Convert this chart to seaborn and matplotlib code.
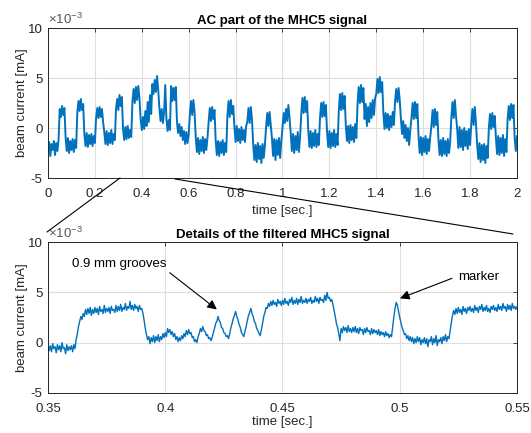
import numpy as np
import seaborn as sns
import matplotlib.pyplot as plt
from matplotlib.lines import Line2D

# AC part of the MHC5 signal, values in 1e-3 mA, one sample every 5 ms (0 .. 2 s)
ac_signal = [
    -2.4, -1.4, -2.8, -1.6, -2.2, -1.3, -2.7, -1.5, -2.3, -1.2, 1.9, 1.1, 2.2, 1.3, 2.0, -0.9, -2.3, -1.0, -2.5, -1.3,
    -2.2, -1.1, -2.4, -1.2, -2.0, 1.6, 2.7, 1.7, 2.9, 1.8, 2.4, -0.6, -1.8, -0.5, -1.9, -0.7, -1.6, -0.6, -1.8, -0.8,
    -1.5, 1.0, 2.0, 1.0, 2.1, 1.1, 1.9, 0.6, -0.4, -1.6, -0.3, -1.7, -0.5, -1.5, -0.2, -1.6, -0.6, -1.2, 1.9, 2.9,
    1.8, 3.3, 2.2, 3.1, -0.1, -1.2, 0.1, -1.1, 0.2, -1.0, -0.2, -0.9, 2.6, 3.9, 2.5, 4.1, 2.8, 4.2, 3.0, 0.9,
    -0.2, 1.1, -0.1, 1.7, 0.2, 2.6, 0.6, 3.3, 1.4, 4.4, 3.4, 4.8, 3.6, 5.2, 3.8, 2.0, 0.7, 1.9, 0.5, 1.6,
    4.3, 0.9, -0.3, 0.8, -0.2, 4.2, 2.7, 4.0, 2.8, 4.1, 0.6, -0.5, 0.4, -0.8, 0.1, -1.2, -0.3, -1.6, -0.4, -1.5,
    -0.6, 1.4, 2.7, 1.3, 2.8, 1.6, -0.9, -2.4, -1.0, -2.6, -1.2, -2.3, -0.9, -2.5, -1.1, -2.2, -1.0, 0.6, 2.0, 0.7,
    2.1, 0.9, 1.8, -1.2, -2.7, -1.3, -2.8, -1.4, -2.5, -1.2, -2.7, -1.5, -2.4, 1.2, 2.7, 1.1, 2.8, 1.4, 2.2, 0.1,
    -1.4, 0.2, -1.3, -0.1, -1.5, 0.1, -1.2, -0.2, -1.4, 0.2, 0.6, 2.0, 0.5, 2.1, 0.8, -1.6, -3.2, -1.7, -3.4, -1.5,
    -3.1, -1.8, -3.5, -1.6, -3.0, -1.7, 0.1, 1.5, 0.2, 1.6, 0.3, -1.0, -2.8, -1.1, -3.2, -1.2, -2.7, -1.0, -3.0, -1.3,
    0.0, 1.5, 0.5, 1.9, 0.7, 2.3, 1.0, -0.5, -2.3, -0.6, -2.5, -0.8, -2.2, -0.4, -2.4, -0.9, 1.4, 3.0, 1.5, 3.1,
    1.6, 2.7, -0.3, -1.9, -0.3, -2.0, -0.5, -1.8, -0.2, -1.9, -0.6, -1.7, 1.0, 2.5, 1.1, 2.6, 1.2, 2.3, -0.4, -1.9,
    -0.3, -2.0, -0.5, -1.8, -0.2, -1.9, -0.6, -1.7, 1.7, 3.4, 1.8, 3.5, 1.9, 3.2, 0.3, -1.3, 0.2, -1.5, 0.3, -1.2,
    0.1, -1.4, 0.4, -1.0, 2.4, 4.1, 2.5, 4.3, 2.6, 4.0, 0.9, 2.4, 0.2, 2.1, 0.6, 2.5, 1.0, 2.8, 1.3, 3.0,
    3.4, 4.9, 3.5, 5.1, 3.6, 4.6, 1.6, -0.1, 1.5, 0.0, 1.4, -0.2, 1.2, 0.1, 1.6, 0.3, 2.7, 3.9, 2.6, 4.0,
    2.8, 0.9, -0.6, 0.7, -1.0, 0.3, -1.3, 0.0, -1.7, -0.2, 1.0, 2.5, 0.9, 2.6, 1.0, 2.4, -0.8, -2.5, -0.9, -2.7,
    -1.0, -2.4, -0.8, -2.6, -1.1, -2.3, -0.9, 0.2, 1.8, 0.1, 1.9, 0.3, 1.6, -1.1, -2.7, -1.2, -2.8, -1.0, -2.6, -1.3,
    -2.8, -1.1, -2.5, -1.4, 1.0, 2.6, 1.0, 2.8, 1.2, -0.1, -2.0, 0.1, -1.9, -0.2, -2.2, 0.0, -1.8, -0.3, -2.1, -0.1,
    -1.7, 0.4, 1.9, 0.3, 2.1, 0.5, -1.6, -3.1, -1.5, -3.4, -1.7, -3.2, -1.6, -3.5, -1.8, -3.0, 0.0, 1.4, -0.1, 1.5,
    0.1, 1.2, -0.9, -2.6, -0.8, -2.7, -1.0, -2.5, -0.7, -2.8, -1.1, -2.4, 0.9, 2.2, 0.8, 2.4, 1.0, 2.3, -1.0, -2.3,
    -0.8,
]

# filtered MHC5 signal, 1e-3 mA, one sample every 0.5 ms (0.35 .. 0.55 s)
filtered_signal = [
    -0.2, -0.8, -0.3, -0.9, -0.1, -0.6, -0.4, -1.0, -0.2, -0.7, -0.3, -0.9, 0.0, -0.6, -0.5, -1.1, -0.2, -0.8, -0.4, -0.7,
    -0.3, -0.9, -0.2, -0.6, 0.3, 0.9, 1.6, 2.1, 2.6, 2.3, 2.9, 2.6, 3.3, 2.8, 3.4, 2.9, 3.5, 2.7, 3.3, 2.9,
    3.5, 3.0, 3.4, 2.8, 3.6, 3.1, 3.3, 2.9, 3.7, 3.0, 3.4, 3.1, 3.5, 2.9, 3.6, 3.2, 3.3, 3.0, 3.7, 3.1,
    3.6, 3.2, 3.8, 3.1, 3.5, 3.3, 3.9, 3.2, 3.6, 3.4, 4.1, 3.3, 3.7, 3.2, 3.8, 3.4, 3.6, 3.1, 3.7, 3.3,
    3.4, 2.9, 2.2, 1.4, 0.8, 0.3, 0.6, -0.1, 0.5, 0.1, 0.7, 0.0, 0.6, 0.2, 0.8, 0.1, 0.6, 0.3, 0.9, 0.5,
    1.0, 0.6, 1.4, 1.0, 1.3, 0.8, 1.1, 0.6, 0.9, 0.3, 0.6, 0.1, 0.5, 0.2, 0.7, 0.4, 0.9, 0.6, 1.2, 0.8,
    1.3, 0.9, 1.0, 0.5, 0.6, 0.1, 0.3, 0.0, 0.6, 0.9, 1.4, 1.1, 1.6, 1.2, 1.1, 0.7, 0.8, 0.4, 0.5, 0.2,
    0.5, 1.0, 1.4, 1.9, 2.1, 2.6, 2.2, 2.0, 1.5, 1.4, 1.0, 0.9, 0.6, 0.7, 0.4, 0.9, 1.5, 1.9, 2.4, 2.7,
    3.1, 2.6, 2.3, 1.8, 1.5, 1.0, 0.8, 0.6, 1.1, 1.6, 2.2, 2.7, 3.0, 3.4, 2.9, 2.6, 2.1, 1.9, 1.4, 1.2,
    0.9, 0.7, 1.3, 1.9, 2.6, 3.0, 3.5, 3.4, 3.9, 3.6, 4.1, 3.7, 4.2, 3.8, 4.0, 3.6, 4.3, 3.9, 4.1, 3.7,
    4.2, 3.8, 4.4, 3.9, 4.1, 3.7, 4.3, 4.0, 4.5, 3.8, 4.2, 3.9, 4.4, 3.8, 4.3, 4.0, 4.6, 3.9, 4.2, 4.0,
    4.4, 3.9, 4.3, 4.1, 4.5, 3.9, 4.2, 4.0, 4.6, 4.1, 4.4, 3.9, 4.5, 4.2, 4.3, 4.0, 4.7, 4.2, 5.0, 4.4,
    4.5, 4.1, 4.3, 3.8, 3.2, 2.6, 1.9, 1.5, 0.9, 0.2, 1.4, 1.0, 1.6, 1.2, 1.5, 1.0, 1.7, 1.1, 1.4, 1.0,
    1.5, 1.1, 1.6, 1.0, 1.4, 0.9, 1.5, 1.2, 1.3, 0.8, 1.4, 1.0, 1.5, 1.1, 1.2, 0.8, 1.4, 0.9, 1.3, 1.0,
    1.2, 0.8, 1.3, 0.7, 1.1, 0.8, 1.0, 0.6, 1.1, 0.7, 0.9, 0.5, 0.8, 0.6, 1.6, 2.6, 3.4, 4.0, 3.7, 3.1,
    2.5, 2.0, 1.5, 1.2, 0.8, 0.9, 0.4, 0.7, 0.2, 0.6, 0.1, 0.5, -0.1, 0.4, 0.0, 0.6, 0.1, 0.5, -0.2, 0.3,
    0.0, 0.5, -0.1, 0.4, -0.4, 0.3, 0.1, 0.6, -0.2, 0.4, 0.0, 0.7, -0.3, 0.3, 0.1, 0.5, -0.1, 0.6, 0.2, 0.8,
    0.1, 0.6, 0.4, 1.2, 2.0, 2.7, 3.2, 2.8, 3.4, 2.9, 3.5, 3.0, 3.3, 2.8, 3.6, 3.1, 3.4, 2.9, 3.5, 3.2,
    3.6, 3.1, 3.4, 3.0, 3.7, 3.2, 3.5, 3.0, 3.6, 3.3, 3.8, 3.1, 3.5, 3.2, 3.7, 3.1, 3.4, 3.0, 3.6, 3.3,
    3.7, 3.2, 3.5, 3.1, 3.8, 3.3, 3.6, 3.2, 3.9, 3.4, 3.6, 3.1, 3.8, 3.3, 3.7, 3.2, 3.9, 3.4, 3.6, 3.3,
    3.6,
]

t_ac = np.linspace(0, 2, len(ac_signal))
t_filt = np.linspace(0.35, 0.55, len(filtered_signal))

top_xticks = [0, 0.2, 0.4, 0.6, 0.8, 1, 1.2, 1.4, 1.6, 1.8, 2]
bottom_xticks = [0.35, 0.4, 0.45, 0.5, 0.55]
yticks = [-5, 0, 5, 10]

sns.set_theme(style="whitegrid")
plt.rcParams["font.family"] = ["Liberation Sans", "DejaVu Sans"]
plt.rcParams["axes.unicode_minus"] = False
plt.rcParams["mathtext.fontset"] = "custom"
plt.rcParams["mathtext.rm"] = "Liberation Sans"

blue = "#0072BD"
dark = "#262626"

fig = plt.figure(figsize=(5.31, 4.33), dpi=100)
ax1 = fig.add_axes([0.0904, 0.5889, 0.8832, 0.3464])
ax2 = fig.add_axes([0.0904, 0.0924, 0.8832, 0.3487])

sns.lineplot(x=t_ac, y=ac_signal, ax=ax1, color=blue, linewidth=1.4)
sns.lineplot(x=t_filt, y=filtered_signal, ax=ax2, color=blue, linewidth=1.0)

for ax, xt, xlim, title, lpad in [
    (ax1, top_xticks, (0, 2), "AC part of the MHC5 signal", 4),
    (ax2, bottom_xticks, (0.35, 0.55), "Details of the filtered MHC5 signal", 1),
]:
    ax.set_facecolor("white")
    ax.set_xlim(*xlim)
    ax.set_ylim(-5, 10)
    ax.set_xticks(xt)
    ax.set_xticklabels([f"{v:g}" for v in xt])
    ax.set_yticks(yticks)
    ax.grid(True, color="#dfdfdf", linewidth=0.8)
    ax.tick_params(direction="in", length=3, width=0.6, colors=dark, labelsize=9.5,
                   top=True, right=True, pad=4)
    ax.tick_params(axis="x", pad=7)
    for s in ax.spines.values():
        s.set_color(dark)
        s.set_linewidth(0.7)
        s.set_visible(True)
    ax.set_xlabel("time [sec.]", fontsize=9.5, color=dark, labelpad=lpad)
    ax.set_ylabel("beam current [mA]", fontsize=9.5, color=dark, labelpad=0)
    ax.set_title(title, fontsize=9.5, fontweight="bold", color="black", pad=3)
    ax.text(0.0, 1.005, r"$\times10^{-3}$", transform=ax.transAxes, fontsize=9.5,
            color="#555555", ha="left", va="bottom")

ax2.annotate("0.9 mm grooves", xy=(0.422, 3.3), xytext=(0.3602, 7.8),
             fontsize=9.5, color="black", va="center",
             arrowprops=dict(arrowstyle="-|>", color="black", lw=0.8, mutation_scale=14,
                             shrinkA=0, shrinkB=0, relpos=(1.0, 0.0)))
ax2.annotate("marker", xy=(0.5001, 4.4), xytext=(0.5248, 6.5),
             fontsize=9.5, color="black", va="center",
             arrowprops=dict(arrowstyle="-|>", color="black", lw=0.8, mutation_scale=14,
                             shrinkA=2, shrinkB=0, relpos=(0.0, 0.6)))

W, H = 531, 433
for (x0, y0), (x1, y1) in [((120, 178), (47, 232)), ((175, 179), (513, 234))]:
    fig.add_artist(Line2D([x0 / W, x1 / W], [1 - y0 / H, 1 - y1 / H],
                          transform=fig.transFigure, color="black", lw=0.8))

plt.savefig("out.png", dpi=100)
